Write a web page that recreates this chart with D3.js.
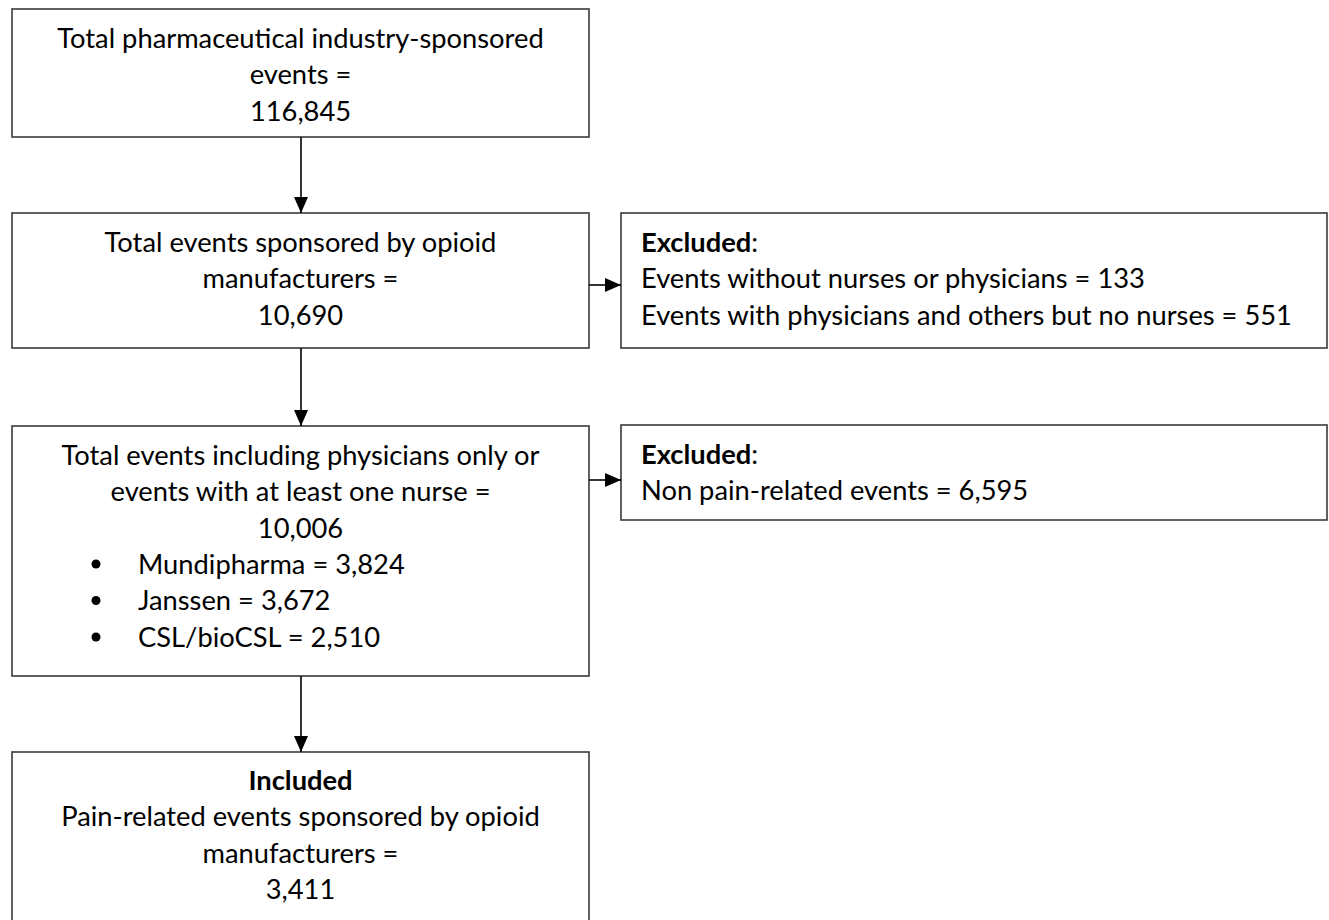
<!DOCTYPE html>
<html>
<head>
<meta charset="utf-8">
<script src="https://cdn.jsdelivr.net/npm/d3@7"></script>
<style>
  body { margin: 0; background: #fff; }
  svg { display: block; }
  text { font-family: Lato, "Open Sans", sans-serif; fill: #000; }
</style>
</head>
<body>
<div id="chart"></div>
<script>
// Flow chart content
const topLines = ["Total pharmaceutical industry-sponsored", "events =", "116,845"];
const opioidLines = ["Total events sponsored by opioid", "manufacturers =", "10,690"];
const nurseLines = ["Total events including physicians only or", "events with at least one nurse =", "10,006"];
const manufacturers = ["Mundipharma", "Janssen", "CSL/bioCSL"];
const manufacturerCounts = ["3,824", "3,672", "2,510"];
const excluded1 = ["Events without nurses or physicians = 133", "Events with physicians and others but no nurses = 551"];
const excluded2 = ["Non pain-related events = 6,595"];
const includedLines = ["Pain-related events sponsored by opioid", "manufacturers =", "3,411"];

const width = 1329, height = 920;
const lineH = 36.5;
const fontSize = 27.3;

const svg = d3.select("#chart")
    .append("svg")
    .attr("width", width)
    .attr("height", height);

const defs = svg.append("defs");
defs.append("marker")
    .attr("id", "arrow")
    .attr("viewBox", "0 0 16 14")
    .attr("refX", 16)
    .attr("refY", 7)
    .attr("markerWidth", 16)
    .attr("markerHeight", 14)
    .attr("markerUnits", "userSpaceOnUse")
    .attr("orient", "auto")
    .append("path")
    .attr("d", "M0,0L16,7L0,14Z")
    .attr("fill", "#000");

// box layout: left column and right column
const leftX = 12, leftW = 577;
const rightX = 621, rightW = 706;

const boxes = [
    { x: leftX, y: 9, w: leftW, h: 128 },
    { x: leftX, y: 213, w: leftW, h: 135 },
    { x: rightX, y: 213, w: rightW, h: 135 },
    { x: leftX, y: 426, w: leftW, h: 250 },
    { x: rightX, y: 425, w: rightW, h: 95 },
    { x: leftX, y: 752, w: leftW, h: 220 }
];

svg.selectAll("rect.box")
    .data(boxes)
    .enter()
    .append("rect")
    .attr("class", "box")
    .attr("x", d => d.x)
    .attr("y", d => d.y)
    .attr("width", d => d.w)
    .attr("height", d => d.h)
    .attr("fill", "#fff")
    .attr("stroke", "#3a3a3a")
    .attr("stroke-width", 1.6);

// centred multi-line text
function centred(lines, cy0, bold) {
    const cx = leftX + leftW / 2;
    svg.append("g").selectAll("text")
        .data(lines)
        .enter()
        .append("text")
        .attr("x", cx)
        .attr("y", (d, i) => cy0 + i * lineH)
        .attr("dy", "0.35em")
        .attr("text-anchor", "middle")
        .style("font-size", fontSize + "px")
        .style("font-weight", (d, i) => bold && i === 0 ? "bold" : "normal")
        .text(d => d);
}

function leftText(lines, x, cy0) {
    svg.append("g").selectAll("text")
        .data(lines)
        .enter()
        .append("text")
        .attr("x", x)
        .attr("y", (d, i) => cy0 + i * lineH)
        .attr("dy", "0.35em")
        .style("font-size", fontSize + "px")
        .text(d => d);
}

centred(topLines, 38);
centred(opioidLines, 242);
centred(nurseLines, 455);
centred(["Included"].concat(includedLines), 780, true);

// bullets
const bulletY = manufacturers.map((m, i) => 564 + i * lineH);
svg.append("g").selectAll("circle")
    .data(manufacturers)
    .enter()
    .append("circle")
    .attr("cx", 96)
    .attr("cy", (d, i) => bulletY[i])
    .attr("r", 4.5)
    .attr("fill", "#000");
svg.append("g").selectAll("text")
    .data(manufacturers)
    .enter()
    .append("text")
    .attr("x", 138)
    .attr("y", (d, i) => bulletY[i])
    .attr("dy", "0.35em")
    .style("font-size", fontSize + "px")
    .text((d, i) => `${d} = ${manufacturerCounts[i]}`);

// excluded boxes
function excludedHeading(y) {
    const t = svg.append("text")
        .attr("x", 641)
        .attr("y", y)
        .attr("dy", "0.35em")
        .style("font-size", fontSize + "px");
    t.append("tspan").style("font-weight", "bold").text("Excluded");
    t.append("tspan").text(":");
}
excludedHeading(242);
leftText(excluded1, 641, 242 + lineH);
excludedHeading(454);
leftText(excluded2, 641, 454 + lineH);

// arrows
const arrows = [
    { x1: 301, y1: 137, x2: 301, y2: 213 },
    { x1: 301, y1: 348, x2: 301, y2: 426 },
    { x1: 301, y1: 676, x2: 301, y2: 752 },
    { x1: 589, y1: 285, x2: 621, y2: 285 },
    { x1: 589, y1: 480, x2: 621, y2: 480 }
];
svg.selectAll("line.arrow")
    .data(arrows)
    .enter()
    .append("line")
    .attr("class", "arrow")
    .attr("x1", d => d.x1)
    .attr("y1", d => d.y1)
    .attr("x2", d => d.x2)
    .attr("y2", d => d.y2)
    .attr("stroke", "#000")
    .attr("stroke-width", 1.6)
    .attr("marker-end", "url(#arrow)");
</script>
</body>
</html>
